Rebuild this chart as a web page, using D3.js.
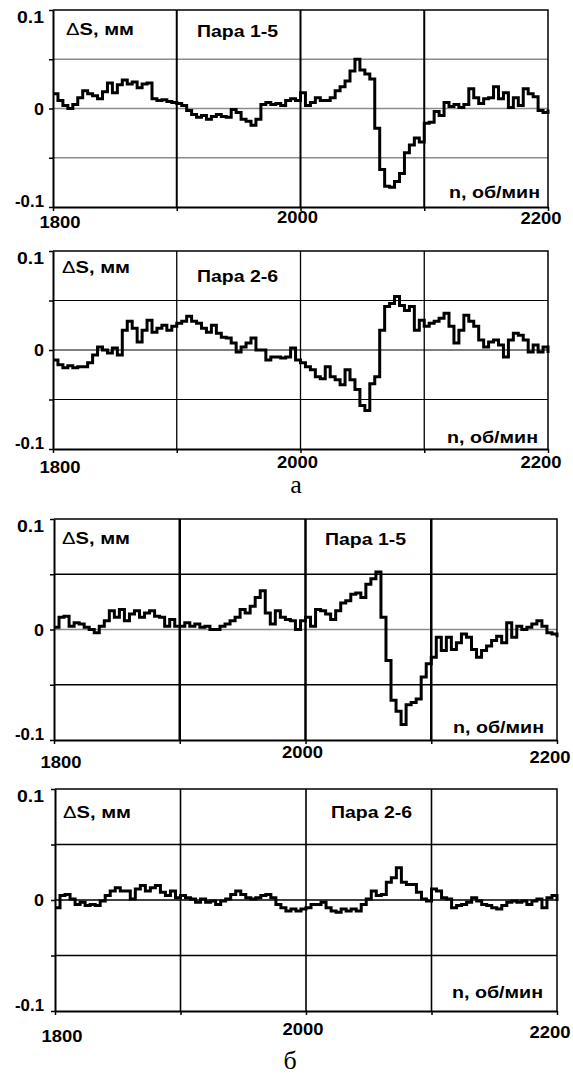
<html>
<head>
<style>
  body { margin: 0; background: #fff; }
  text { font-family: "Liberation Sans", Arial, sans-serif; font-weight: bold; fill: #000; }
  .cap { font-family: "Liberation Serif", "Times New Roman", serif; font-weight: normal; }
</style>
</head>
<body>
<script src="https://cdnjs.cloudflare.com/ajax/libs/d3/7.8.5/d3.min.js"></script>
<script>
// rotation speed, rpm (every 4 rpm)
var rpm = [1800,1804,1808,1812,1816,1820,1824,1828,1832,1836,1840,1844,1848,1852,1856,1860,1864,1868,1872,1876,
  1880,1884,1888,1892,1896,1900,1904,1908,1912,1916,1920,1924,1928,1932,1936,1940,1944,1948,1952,1956,
  1960,1964,1968,1972,1976,1980,1984,1988,1992,1996,2000,2004,2008,2012,2016,2020,2024,2028,2032,2036,
  2040,2044,2048,2052,2056,2060,2064,2068,2072,2076,2080,2084,2088,2092,2096,2100,2104,2108,2112,2116,
  2120,2124,2128,2132,2136,2140,2144,2148,2152,2156,2160,2164,2168,2172,2176,2180,2184,2188,2192,2196,2200];

// а: pair 1-5
var ds15a = [0.015,0.008,0.003,0.000,0.004,0.011,0.018,0.015,0.013,0.010,
  0.017,0.026,0.016,0.024,0.029,0.025,0.027,0.021,0.025,0.026,
  0.010,0.008,0.009,0.007,0.006,0.005,0.003,-0.002,-0.006,-0.009,
  -0.007,-0.011,-0.008,-0.006,-0.008,-0.009,-0.001,-0.004,-0.011,-0.013,
  -0.017,-0.011,0.004,0.006,0.004,0.005,0.003,0.008,0.010,0.008,
  0.016,0.003,0.006,0.011,0.008,0.008,0.011,0.018,0.022,0.028,
  0.038,0.050,0.039,0.035,0.030,-0.020,-0.062,-0.079,-0.080,-0.074,
  -0.066,-0.045,-0.037,-0.030,-0.034,-0.015,-0.014,-0.003,-0.007,0.006,
  0.002,0.004,0.001,0.004,0.020,0.011,0.005,0.010,0.011,0.022,
  0.010,0.016,0.001,0.011,0.003,0.020,0.015,0.012,-0.002,-0.004,
  -0.001];
// а: pair 2-6
var ds26a = [-0.010,-0.015,-0.018,-0.016,-0.018,-0.017,-0.017,-0.013,-0.005,0.003,
  0.000,-0.003,0.002,-0.005,0.020,0.029,0.022,0.008,0.020,0.030,
  0.018,0.022,0.025,0.020,0.024,0.027,0.029,0.034,0.029,0.027,
  0.022,0.018,0.025,0.017,0.013,0.012,0.007,-0.002,0.003,0.007,
  0.012,0.000,0.000,-0.010,-0.007,-0.007,-0.008,-0.007,0.002,-0.010,
  -0.013,-0.017,-0.020,-0.027,-0.029,-0.017,-0.027,-0.030,-0.035,-0.020,
  -0.030,-0.040,-0.056,-0.061,-0.034,-0.027,0.020,0.044,0.047,0.054,
  0.045,0.040,0.044,0.020,0.030,0.024,0.027,0.029,0.032,0.037,
  0.024,0.007,0.020,0.035,0.029,0.024,0.010,0.003,0.008,0.010,
  0.005,-0.007,0.010,0.017,0.015,0.010,-0.002,0.005,-0.002,0.003,
  -0.003];
// б: pair 1-5
var ds15b = [0.002,0.011,0.012,0.003,0.006,0.005,0.002,0.000,-0.003,0.003,
  0.008,0.017,0.011,0.018,0.008,0.014,0.017,0.011,0.015,0.017,
  0.012,0.011,0.003,0.009,0.003,0.003,0.006,0.003,0.005,0.002,
  0.003,0.000,0.000,0.003,0.005,0.008,0.011,0.018,0.015,0.021,
  0.029,0.035,0.015,0.005,0.017,0.011,0.009,0.008,0.000,0.008,
  0.011,0.003,0.018,0.017,0.014,0.009,0.017,0.024,0.026,0.032,
  0.033,0.029,0.041,0.046,0.052,0.011,-0.028,-0.064,-0.074,-0.086,
  -0.068,-0.066,-0.063,-0.043,-0.031,-0.025,-0.007,-0.019,-0.007,-0.018,
  -0.012,-0.004,-0.007,-0.018,-0.025,-0.019,-0.015,-0.010,-0.006,-0.012,
  0.006,-0.007,0.003,0.000,0.002,0.005,0.008,0.003,-0.003,-0.004,
  -0.007];
// б: pair 2-6
var ds26b = [-0.007,0.004,0.005,0.001,-0.004,-0.002,-0.005,-0.004,-0.005,-0.001,
  0.004,0.008,0.011,0.008,0.008,0.001,0.010,0.013,0.008,0.011,
  0.013,0.007,0.004,0.008,0.002,0.004,0.002,0.001,-0.002,0.001,
  -0.002,-0.001,-0.004,-0.001,0.001,0.005,0.008,0.005,0.002,0.001,
  0.002,0.004,0.005,0.002,-0.004,-0.007,-0.010,-0.008,-0.010,-0.008,
  -0.007,-0.004,-0.004,-0.002,-0.007,-0.010,-0.011,-0.008,-0.010,-0.008,
  -0.010,-0.004,0.001,0.008,0.004,0.005,0.016,0.020,0.029,0.016,
  0.014,0.014,0.007,0.001,-0.001,0.010,0.008,0.002,0.001,-0.007,
  -0.005,-0.004,-0.002,0.002,-0.001,-0.004,-0.005,-0.007,-0.008,-0.005,
  -0.002,-0.001,-0.002,-0.001,-0.004,-0.001,0.001,-0.007,0.002,0.004,
  -0.001];

var xTicks = [1800, 2000, 2200];
var yTicks = [-0.1, 0, 0.1];
var yLabels = ["-0.1", "0", "0.1"];
var titles = ["Пара 1-5", "Пара 2-6", "Пара 1-5", "Пара 2-6"];

// layout of each panel (pixels)
var panels = [
  {v: ds15a, box: [53, 10, 548, 207], title: [197, 37], ds: [66, 35], n: [449, 198], xdy: [21, 16, 17],
   hgrid: "#8c8c8c", hzero: "#8c8c8c", hw: 1.5, vw: 2},
  {v: ds26a, box: [53, 251, 548, 449], title: [197, 282], ds: [62, 273], n: [447, 443], xdy: [24, 19, 19],
   hgrid: "#000", hzero: "#000", hw: 1.2, vw: 1.3},
  {v: ds15b, box: [54, 519, 557, 740], title: [325, 545], ds: [62, 544], n: [453, 733], xdy: [28, 18, 23],
   hgrid: "#000", hzero: "#8c8c8c", hw: 1.5, vw: 2.5},
  {v: ds26b, box: [55, 789, 557, 1011], title: [331, 818], ds: [63, 818], n: [452, 998], xdy: [31, 24, 27],
   hgrid: "#000", hzero: "#000", hw: 1.3, vw: 1.6}
];

var svg = d3.select("body").append("svg")
    .attr("width", 573)
    .attr("height", 1077);

panels.forEach(function(p, k) {
  var L = p.box[0], T = p.box[1], R = p.box[2], B = p.box[3];
  var x = d3.scaleLinear().domain([1800, 2200]).range([L, R]);
  var y = d3.scaleLinear().domain([-0.1, 0.1]).range([B, T]);
  var g = svg.append("g");

  // horizontal grid
  [-0.05, 0, 0.05].forEach(function(d) {
    g.append("line")
      .attr("x1", L).attr("x2", R)
      .attr("y1", y(d)).attr("y2", y(d))
      .attr("stroke", d === 0 ? p.hzero : p.hgrid)
      .attr("stroke-width", p.hw);
  });
  // vertical grid
  [1900, 2000, 2100].forEach(function(d) {
    g.append("line")
      .attr("x1", x(d)).attr("x2", x(d))
      .attr("y1", T).attr("y2", B)
      .attr("stroke", "#000")
      .attr("stroke-width", p.vw);
  });
  // top & right frame
  g.append("path")
    .attr("d", "M" + L + "," + T + "H" + R + "V" + B)
    .attr("fill", "none").attr("stroke", "#000").attr("stroke-width", 1.5);

  // axes
  var ax = g.append("g").attr("transform", "translate(0," + B + ")")
    .call(d3.axisBottom(x).tickValues([1800, 1900, 2000, 2100, 2200]).tickSize(4).tickSizeOuter(0).tickFormat(""));
  var ay = g.append("g").attr("transform", "translate(" + L + ",0)")
    .call(d3.axisLeft(y).tickValues([-0.1, -0.05, 0, 0.05, 0.1]).tickSize(4).tickSizeOuter(0).tickFormat(""));
  [ax, ay].forEach(function(a) {
    a.select(".domain").attr("stroke", "#000").attr("stroke-width", 2);
    a.selectAll(".tick line").attr("stroke", "#000").attr("stroke-width", 1.5);
  });

  // tick labels
  var xdx = [7, -3, -7];
  xTicks.forEach(function(d, i) {
    g.append("text")
      .attr("x", x(d) + xdx[i]).attr("y", B + p.xdy[i])
      .attr("text-anchor", "middle")
      .attr("font-size", 17)
      .attr("textLength", 41).attr("lengthAdjust", "spacingAndGlyphs")
      .text(d);
  });
  var ydy = [0, 6, 13];
  var yw = [29, 10, 27];
  yTicks.forEach(function(d, i) {
    g.append("text")
      .attr("x", 44).attr("y", y(d) + ydy[i])
      .attr("text-anchor", "end")
      .attr("font-size", 17)
      .attr("textLength", yw[i]).attr("lengthAdjust", "spacingAndGlyphs")
      .text(yLabels[i]);
  });

  // data line
  var line = d3.line()
    .x(function(d, i) { return x(rpm[i]); })
    .y(function(d) { return y(d); })
    .curve(d3.curveStepAfter);
  g.append("path")
    .datum(p.v)
    .attr("d", line)
    .attr("fill", "none")
    .attr("stroke", "#000")
    .attr("stroke-width", 3)
    .attr("stroke-linejoin", "miter");

  // labels inside
  var ds = g.append("text")
    .attr("x", p.ds[0]).attr("y", p.ds[1])
    .attr("font-size", 17)
    .attr("textLength", 68).attr("lengthAdjust", "spacingAndGlyphs");
  ds.append("tspan").attr("font-weight", "normal").text("Δ");
  ds.append("tspan").text("S, мм");

  g.append("text")
    .attr("x", p.title[0]).attr("y", p.title[1])
    .attr("font-size", 17)
    .attr("textLength", 81).attr("lengthAdjust", "spacingAndGlyphs")
    .text(titles[k]);

  g.append("text")
    .attr("x", p.n[0]).attr("y", p.n[1])
    .attr("font-size", 17)
    .attr("textLength", 91).attr("lengthAdjust", "spacingAndGlyphs")
    .text("n, об/мин");
});

// sub-figure captions
svg.append("text").attr("class", "cap")
  .attr("x", 296).attr("y", 493).attr("text-anchor", "middle")
  .attr("font-size", 26).text("а");
svg.append("text").attr("class", "cap")
  .attr("x", 290).attr("y", 1069).attr("text-anchor", "middle")
  .attr("font-size", 26).text("б");
</script>
</body>
</html>
